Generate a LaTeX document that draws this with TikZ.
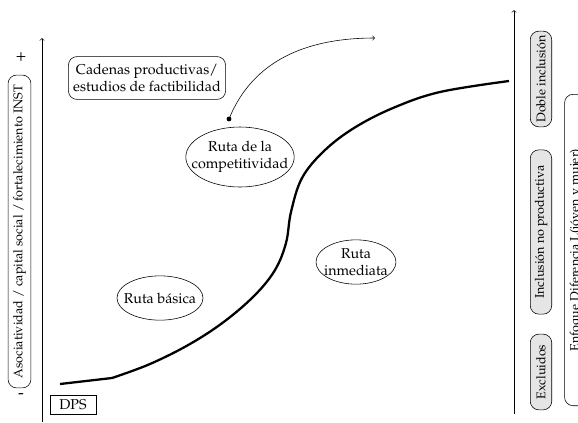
\documentclass[tikz,border=0pt]{standalone}
\usepackage[T1]{fontenc}
\usepackage{mathpazo}
\usepackage{xcolor}
\definecolor{nivelfondo}{rgb}{.9,.9,.9}
\usetikzlibrary{arrows, shapes.geometric}
\tikzset{
    font={\fontsize{10pt}{12}\selectfont},
    ruta/.style={draw, ellipse, inner xsep=-4pt, inner ysep=0pt, align=center},
    caja/.style={draw, rounded corners=6pt, align=center},
    girado/.style={rotate=90, font={\fontsize{8.8pt}{10}\selectfont}},
    nivel/.style={draw, fill=nivelfondo, rounded corners=6pt, girado,
        inner sep=1pt, minimum height=15pt},
    }
\begin{document}
\begin{tikzpicture}
    [x=0.7pt, y=-0.7pt]
    \useasboundingbox (0,0) rectangle (578,422);
    \clip (0,0) rectangle (578,422);
    % ejes
    \coordinate (izq0) at (42,422);
    \coordinate (izq1) at (42,38);
    \coordinate (der0) at (514,414);
    \coordinate (der1) at (514,10);
    \draw[->] (izq0) -- (izq1);
    \draw[->] (der0) -- (der1);
    \node[font=\large] (mas) at (21,57) {+};
    \node[font=\large] (menos) at (21,396) {-};
    \node[caja, girado, inner sep=1pt, minimum width=219pt, minimum height=16pt]
        (asoc) at (19.5,231.5) {Asociatividad / capital social / fortalecimiento INST};
    \node[draw, minimum width=32pt, minimum height=13pt, inner sep=1pt]
        (dps) at (73,405) {DPS};
    % curva
    \draw[line width=1.6pt]
        (60,384) -- (112,378)
        plot[smooth, tension=.6] coordinates {(112,378) (150,364) (190,344)
        (225,321) (255,295) (275,270) (286,243) (291,212) (302,178)
        (324,151) (354,128) (393,108) (440,92) (509,81)};
    % rutas
    \node[ruta, minimum width=57pt, minimum height=31pt]
        (basica) at (160,298) {Ruta b\'asica};
    \node[ruta, inner xsep=-7pt, minimum width=74pt, minimum height=42pt]
        (compet) at (240,157) {Ruta de la\\competitividad};
    \node[ruta, minimum width=56pt, minimum height=31pt]
        (inmed) at (356,262) {Ruta\\inmediata};
    \node[caja, minimum width=110pt, minimum height=30pt, inner sep=2pt]
        (cadenas) at (147,78) {Cadenas productivas/\\estudios de factibilidad};
    \coordinate (punto) at (229,119);
    \coordinate (flecha) at (375,38);
    \fill (punto) circle (1.7pt);
    \draw[->] (punto) to[out=68, in=180] (flecha);
    % niveles
    \node[nivel, minimum width=53pt] (excl) at (541,372) {Excluidos};
    \node[nivel, minimum width=115pt] (nopro) at (541,232) {Inclusi\'on no productiva};
    \node[nivel, minimum width=67pt] (doble) at (541,79) {Doble inclusi\'on};
    \node[caja, girado, inner sep=1pt, minimum width=218pt, minimum height=16pt]
        (enfoque) at (576,250) {Enfoque Diferencia L(j\'oven y mujer)};
\end{tikzpicture}
\end{document}
